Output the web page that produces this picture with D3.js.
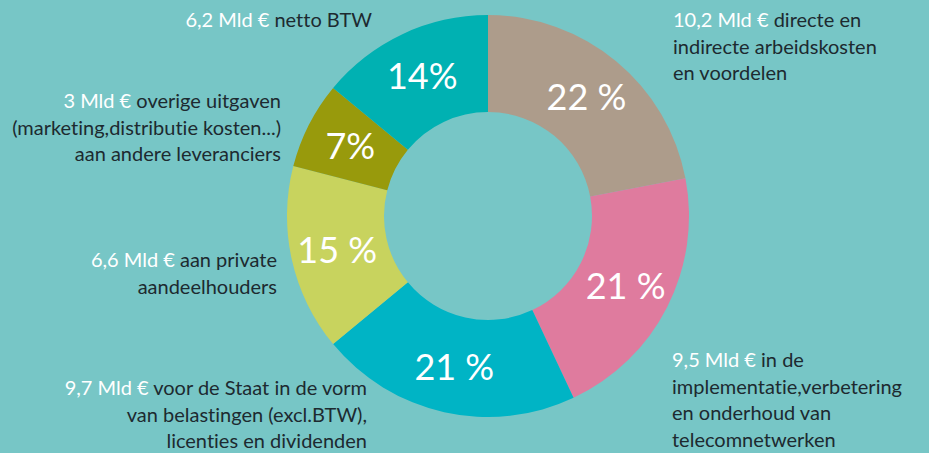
<!DOCTYPE html>
<html>
<head>
<meta charset="utf-8">
<script src="https://cdn.jsdelivr.net/npm/d3@7"></script>
<style>
  html, body { margin: 0; padding: 0; background: #77c6c6; }
  svg { display: block; }
  text { font-family: Lato, "Open Sans", sans-serif; font-variant-ligatures: none; }
</style>
</head>
<body>
<script>
    //Data
        const amounts = ["10,2 Mld €", "9,5 Mld €", "9,7 Mld €", "6,6 Mld €", "3 Mld €", "6,2 Mld €"];
        const shares = [22, 21, 21, 15, 7, 14];
        const shareLabels = ["22 %", "21 %", "21 %", "15 %", "7%", "14%"];
        const descriptions = [
            ["directe en", "indirecte arbeidskosten", "en voordelen"],
            ["in de", "implementatie,verbetering", "en onderhoud van", "telecomnetwerken"],
            ["voor de Staat in de vorm", "van belastingen (excl.BTW),", "licenties en dividenden"],
            ["aan private", "aandeelhouders"],
            ["overige uitgaven", "(marketing,distributie kosten...)", "aan andere leveranciers"],
            ["netto BTW"]
        ];
        const colors = ["#ad9c8b", "#df7b9e", "#00b4c5", "#c8d35e", "#989a0c", "#00b1b2"];

    //Layout
        const width = 929;
        const height = 453;
        const cx = 488, cy = 216;
        const outerR = 201, innerR = 104;
        const lineH = 26.5;
        // anchor x, first baseline y, side of the chart
        const labelLayout = [
            {x: 673, y: 27, side: "right"},
            {x: 672, y: 367, side: "right"},
            {x: 367, y: 395, side: "left"},
            {x: 277, y: 267, side: "left"},
            {x: 281, y: 108, side: "left"},
            {x: 372, y: 27, side: "left"}
        ];

        const data = shares.map((s, i) => ({
            share: s,
            label: shareLabels[i],
            amount: amounts[i],
            lines: descriptions[i],
            color: colors[i],
            layout: labelLayout[i]
        }));

    //SVG
        const svg = d3.select("body")
                    .append("svg")
                    .attr("width", width)
                    .attr("height", height);

        svg.append("rect")
            .attr("width", width)
            .attr("height", height)
            .attr("fill", "#77c6c6");

    //Pie + arcs
        const pie = d3.pie()
                      .value(d => d.share)
                      .sort(null);

        const arc = d3.arc()
                      .innerRadius(innerR)
                      .outerRadius(outerR);

        const labelArc = d3.arc()
                           .innerRadius(innerR + 50)
                           .outerRadius(outerR - 46);

        const g = svg.append("g")
                     .attr("transform", "translate(" + cx + "," + cy + ")");

        const slices = pie(data);

        g.selectAll("path")
            .data(slices)
            .enter()
            .append("path")
            .attr("d", arc)
            .attr("fill", d => d.data.color);

    //Percent labels
        g.selectAll("text.pct")
            .data(slices)
            .enter()
            .append("text")
            .attr("class", "pct")
            .attr("transform", d => "translate(" + labelArc.centroid(d) + ")")
            .attr("text-anchor", "middle")
            .attr("dy", "0.36em")
            .attr("fill", "#ffffff")
            .attr("font-size", 36)
            .text(d => d.data.label);

    //Outside labels
        const labels = svg.selectAll("text.desc")
            .data(data)
            .enter()
            .append("text")
            .attr("class", "desc")
            .attr("x", d => d.layout.x)
            .attr("y", d => d.layout.y)
            .attr("text-anchor", d => d.layout.side === "left" ? "end" : "start")
            .attr("font-size", 20)
            .attr("fill", "#1d2a30");

        labels.each(function(d) {
            const t = d3.select(this);
            d.lines.forEach((line, i) => {
                if (i === 0) {
                    t.append("tspan")
                        .attr("x", d.layout.x)
                        .attr("y", d.layout.y)
                        .attr("fill", "#ffffff")
                        .text(d.amount + " ");
                    t.append("tspan")
                        .text(line);
                } else {
                    t.append("tspan")
                        .attr("x", d.layout.x)
                        .attr("y", d.layout.y + i * lineH)
                        .text(line);
                }
            });
        });
</script>
</body>
</html>
